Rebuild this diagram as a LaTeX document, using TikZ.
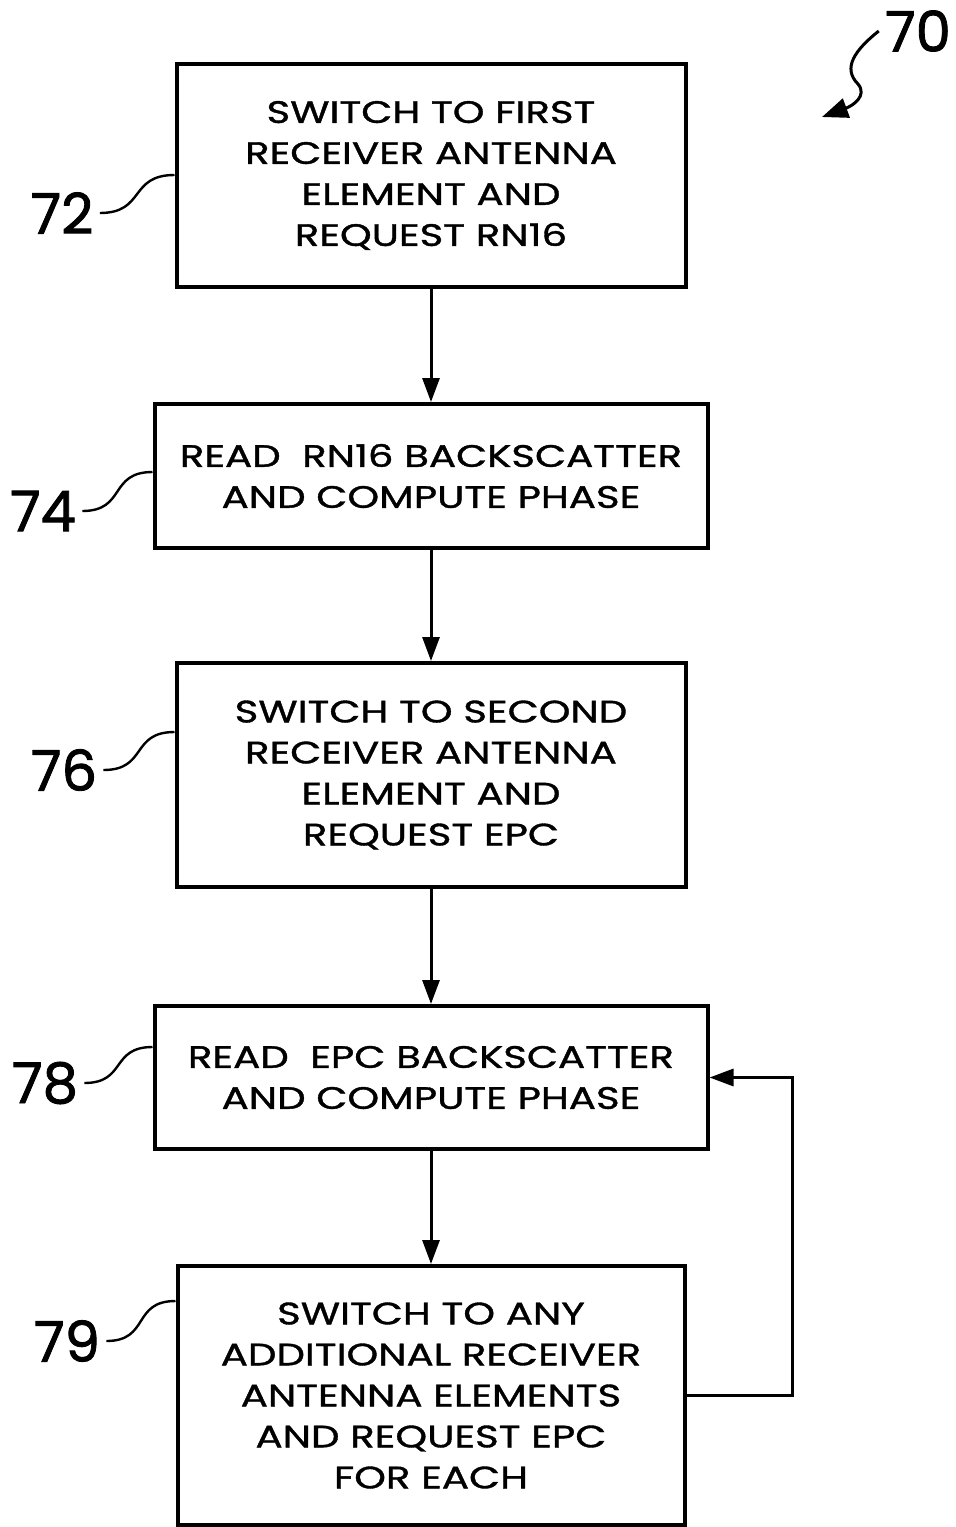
\documentclass[tikz,border=0pt]{standalone}
\usepackage{fontspec}
\setmainfont{Poppins}
\newfontfamily\boxfam[FakeStretch=1.3, FakeBold=1.2]{Poppins}
\newfontfamily\reffam[FakeBold=1.5]{Poppins}
\usetikzlibrary{graphs}
\usetikzlibrary{arrows.meta}
\newcommand\boxfont{\boxfam\fontsize{15.5}{20.5}\selectfont}
\newcommand\reffont{\reffam\fontsize{28}{30}\selectfont}
\tikzset{
  sbox/.style= {draw, line width=2pt, align=center, inner sep=0pt, font=\boxfont},
  ref/.style= {font=\reffont, inner sep=3pt},
  lead/.style= {line width=1.2pt},
  flow/.style= {line width=1.5pt, -{Triangle[length=12pt,width=8.5pt]}},
}

\begin{document}
\begin{tikzpicture}[x=0.5pt, y=-0.5pt]
  \useasboundingbox (0,0) rectangle (956,1527);
  \node [sbox, minimum width=254.5pt, minimum height=111.5pt] (b72) at (431,175.5)
    {SWITCH TO FIRST\\RECEIVER ANTENNA\\ELEMENT AND\\REQUEST RN16} ;
  \node [sbox, minimum width=276.5pt, minimum height=72pt] (b74) at (431,476)
    {READ\ \ RN16 BACKSCATTER\\AND COMPUTE PHASE} ;
  \node [sbox, minimum width=254.5pt, minimum height=112pt] (b76) at (431,775)
    {SWITCH TO SECOND\\RECEIVER ANTENNA\\ELEMENT AND\\REQUEST EPC} ;
  \node [sbox, minimum width=276.5pt, minimum height=71.5pt] (b78) at (431,1077.5)
    {READ\ \ EPC BACKSCATTER\\AND COMPUTE PHASE} ;
  \node [sbox, minimum width=253.5pt, minimum height=129.5pt] (b79) at (431,1395.5)
    {SWITCH TO ANY\\ADDITIONAL RECEIVER\\ANTENNA ELEMENTS\\AND REQUEST EPC\\FOR EACH} ;

  % reference numerals
  \node [ref] (l70) at (918,31) {70} ;
  \node [ref] (l72) at (62,213) {72} ;
  \node [ref] (l74) at (43,511) {74} ;
  \node [ref] (l76) at (64,770) {76} ;
  \node [ref] (l78) at (45,1083) {78} ;
  \node [ref] (l79) at (67,1341) {79} ;
  \coordinate (p70) at (822,117) ;

  \graph {
    { [edges={flow}] (b72) -> (b74) -> (b76) -> (b78) -> (b79) } ;
  } ;
  \draw [flow] (b79.east) -- ++(106,0) |- (b78.east) ;

  % leader lines
  \draw [lead] (l72.east) to[out=0, in=180, looseness=1.4] (b72.west |- 0,175) ;
  \draw [lead] (l74.east) to[out=0, in=180, looseness=1.4] (b74.west |- 0,472) ;
  \draw [lead] (l76.east) to[out=0, in=180, looseness=1.4] (b76.west |- 0,732) ;
  \draw [lead] (l78.east) to[out=0, in=180, looseness=1.4] (b78.west |- 0,1047) ;
  \draw [lead] (l79.east) to[out=0, in=180, looseness=1.4] (b79.west |- 0,1301) ;
  \draw [lead, line width=1.5pt, -{Triangle[length=13pt,width=10pt]}] (l70.west) .. controls (855,50) and (842,68) .. (858,84)
    .. controls (868,96) and (852,106) .. (p70) ;
\end{tikzpicture}
\end{document}
